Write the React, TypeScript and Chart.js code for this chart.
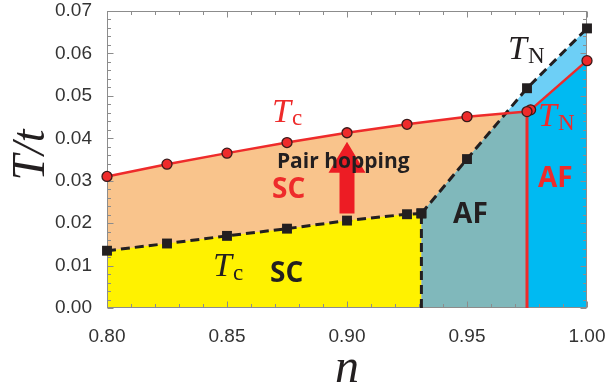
import React, { useEffect, useRef } from 'react';
import { Chart, registerables } from 'chart.js';

Chart.register(...registerables);

// ---- data ----
const tcRedN = [0.80, 0.825, 0.85, 0.875, 0.90, 0.925, 0.95, 0.975];
const tcRedT = [0.0310, 0.0339, 0.0365, 0.0390, 0.0413, 0.0433, 0.0451, 0.0463];

const tnRedN = [0.9765, 1.00];
const tnRedT = [0.0467, 0.0583];

const afRedBoundaryN = [0.975, 0.975];
const afRedBoundaryT = [0.0, 0.0463];

const tcBlackN = [0.80, 0.825, 0.85, 0.875, 0.90, 0.925, 0.931];
const tcBlackT = [0.0135, 0.0152, 0.0170, 0.0187, 0.0206, 0.0221, 0.0223];

const afBlackBoundaryN = [0.931, 0.931];
const afBlackBoundaryT = [0.0, 0.0223];

const tnBlackN = [0.931, 0.95, 0.975, 1.00];
const tnBlackT = [0.0223, 0.0351, 0.0518, 0.0659];

const arrowN = 0.90;
const arrowFromT = 0.0223;
const arrowToT = 0.0392;

const xTickValues = [0.80, 0.85, 0.90, 0.95, 1.00];
const yTickValues = [0.00, 0.01, 0.02, 0.03, 0.04, 0.05, 0.06, 0.07];

// ---- colours ----
const RED = '#EE2B2B';
const BLACK = '#231F20';
const ORANGE = '#F9C48C';
const YELLOW = '#FFF200';
const TEAL = '#80B8BB';
const LIGHTBLUE = '#6DCFF6';
const BLUE = '#00BAF2';

type P = { x: number; y: number };
const pts = (xs: number[], ys: number[]): P[] => xs.map((x, i) => ({ x, y: ys[i] }));

function intersect(a: P[], b: P[]): P | null {
  for (let i = 0; i < a.length - 1; i++) {
    for (let j = 0; j < b.length - 1; j++) {
      const p = a[i], r = { x: a[i + 1].x - p.x, y: a[i + 1].y - p.y };
      const q = b[j], s = { x: b[j + 1].x - q.x, y: b[j + 1].y - q.y };
      const den = r.x * s.y - r.y * s.x;
      if (Math.abs(den) < 1e-15) continue;
      const t = ((q.x - p.x) * s.y - (q.y - p.y) * s.x) / den;
      const u = ((q.x - p.x) * r.y - (q.y - p.y) * r.x) / den;
      if (t >= 0 && t <= 1 && u >= 0 && u <= 1) return { x: p.x + t * r.x, y: p.y + t * r.y };
    }
  }
  return null;
}

const redTc = pts(tcRedN, tcRedT);
const redTn = pts(tnRedN, tnRedT);
const blackTc = pts(tcBlackN, tcBlackT);
const blackTn = pts(tnBlackN, tnBlackT);
const cross = intersect(blackTn, redTc) as P;

const tealPoly: P[] = [
  ...blackTn.filter((p) => p.x < cross.x),
  cross,
  ...redTc.filter((p) => p.x > cross.x),
];
const bluePoly: P[] = [
  { x: afRedBoundaryN[1], y: afRedBoundaryT[1] },
  ...redTn,
];

const decorPlugin = {
  id: 'decor',
  beforeDatasetsDraw(chart: any) {
    const ctx = chart.ctx as CanvasRenderingContext2D;
    const xs = chart.scales.x;
    const ys = chart.scales.y;
    const a = chart.chartArea;

    // arrow
    const cx = xs.getPixelForValue(arrowN);
    const yb = ys.getPixelForValue(arrowFromT);
    const yt = ys.getPixelForValue(arrowToT);
    const headH = 31;
    ctx.save();
    ctx.fillStyle = '#ED1C24';
    ctx.beginPath();
    ctx.moveTo(cx - 7.5, yb);
    ctx.lineTo(cx - 7.5, yt + headH);
    ctx.lineTo(cx - 18.5, yt + headH);
    ctx.lineTo(cx, yt);
    ctx.lineTo(cx + 18.5, yt + headH);
    ctx.lineTo(cx + 7.5, yt + headH);
    ctx.lineTo(cx + 7.5, yb);
    ctx.closePath();
    ctx.fill();
    ctx.restore();

    // frame and inner ticks
    ctx.save();
    ctx.strokeStyle = '#8c8c8c';
    ctx.lineWidth = 1;
    const L = Math.round(a.left) + 0.5, R = Math.round(a.right) - 0.5;
    const T = Math.round(a.top) + 0.5, B = Math.round(a.bottom) - 0.5;
    ctx.strokeRect(L, T, R - L, B - T);
    ctx.beginPath();
    for (let i = 0; i <= 20; i++) {
      const v = 0.80 + i * 0.01;
      const len = i % 5 === 0 ? 6 : 3.5;
      const px = Math.round(xs.getPixelForValue(v)) + 0.5;
      ctx.moveTo(px, B); ctx.lineTo(px, B - len);
      ctx.moveTo(px, T); ctx.lineTo(px, T + len);
    }
    for (let i = 0; i <= 35; i++) {
      const v = i * 0.002;
      const len = i % 5 === 0 ? 6 : 3.5;
      const py = Math.round(ys.getPixelForValue(v)) + 0.5;
      ctx.moveTo(L, py); ctx.lineTo(L + len, py);
      ctx.moveTo(R, py); ctx.lineTo(R - len, py);
    }
    ctx.stroke();
    ctx.restore();
  },
  afterDraw(chart: any) {
    const ctx = chart.ctx as CanvasRenderingContext2D;
    const xs = chart.scales.x;
    const ys = chart.scales.y;
    const X = (v: number) => xs.getPixelForValue(v);
    const Y = (v: number) => ys.getPixelForValue(v);

    const drawT = (x: number, y: number, color: string, sub: string, dy: number) => {
      ctx.fillStyle = color;
      ctx.font = 'italic 34px "Liberation Serif"';
      ctx.textAlign = 'left';
      ctx.textBaseline = 'alphabetic';
      ctx.fillText('T', x, y);
      const w = ctx.measureText('T').width;
      ctx.font = '23px "Liberation Serif"';
      ctx.fillText(sub, x + w + 1, y + dy);
    };
    const label = (text: string, x: number, y: number, color: string, size: number) => {
      ctx.fillStyle = color;
      ctx.font = `bold ${size}px "Open Sans"`;
      ctx.textAlign = 'left';
      ctx.textBaseline = 'alphabetic';
      ctx.fillText(text, x, y);
    };

    ctx.save();
    drawT(X(0.8688), Y(0.0438), RED, 'c', 3);
    drawT(X(0.8442), Y(0.00754), BLACK, 'c', 4);
    drawT(X(0.9796), Y(0.0429), RED, 'N', 4);
    drawT(X(0.9671), Y(0.0587), BLACK, 'N', 4);

    label('Pair hopping', X(0.8708), Y(0.0330), BLACK, 21);
    label('SC', X(0.8688), Y(0.0259), RED, 28);
    label('SC', X(0.8679), Y(0.00613), BLACK, 28);
    label('AF', X(0.9442), Y(0.0200), BLACK, 28);
    label('AF', X(0.9796), Y(0.0285), RED, 28);

    // axis titles
    ctx.fillStyle = BLACK;
    ctx.font = 'italic 48px "Liberation Serif"';
    ctx.textAlign = 'center';
    ctx.textBaseline = 'alphabetic';
    ctx.fillText('n', (chart.chartArea.left + chart.chartArea.right) / 2, 382);

    ctx.translate(44, 155);
    ctx.rotate(-Math.PI / 2);
    ctx.font = 'italic 46px "Liberation Serif"';
    ctx.fillText('T/t', 0, 0);
    ctx.restore();
  },
};

export default function App() {
  const ref = useRef<HTMLCanvasElement | null>(null);

  useEffect(() => {
    if (!ref.current) return;
    const lineBase = { fill: false, tension: 0, clip: false as any };
    const fillBase = {
      borderWidth: 0,
      borderColor: 'rgba(0,0,0,0)',
      pointRadius: 0,
      fill: 'origin',
      tension: 0,
    };
    const chart = new Chart(ref.current, {
      type: 'line',
      data: {
        datasets: [
          // lines & markers (top)
          { ...lineBase, data: redTc, borderColor: RED, borderWidth: 2.5, pointRadius: 5, pointBackgroundColor: RED, pointBorderColor: '#3a1a1a', pointBorderWidth: 1.3 },
          { ...lineBase, data: redTn, borderColor: RED, borderWidth: 2.5, pointRadius: 5, pointBackgroundColor: RED, pointBorderColor: '#3a1a1a', pointBorderWidth: 1.3 },
          { ...lineBase, data: pts(afRedBoundaryN, afRedBoundaryT), borderColor: RED, borderWidth: 3, pointRadius: 0 },
          { ...lineBase, data: blackTn, borderColor: BLACK, borderWidth: 3, borderDash: [9, 5], pointStyle: 'rect', pointRadius: 7, pointBackgroundColor: BLACK, pointBorderWidth: 0 },
          { ...lineBase, data: blackTc, borderColor: BLACK, borderWidth: 3, borderDash: [9, 5], pointStyle: 'rect', pointRadius: 7, pointBackgroundColor: BLACK, pointBorderWidth: 0 },
          { ...lineBase, data: pts(afBlackBoundaryN, afBlackBoundaryT), borderColor: BLACK, borderWidth: 3, borderDash: [9, 5], pointRadius: 0 },
          // fills (top to bottom)
          { ...fillBase, data: blackTc, backgroundColor: YELLOW },
          { ...fillBase, data: bluePoly, backgroundColor: BLUE },
          { ...fillBase, data: tealPoly, backgroundColor: TEAL },
          { ...fillBase, data: blackTn, backgroundColor: LIGHTBLUE },
          { ...fillBase, data: redTc, backgroundColor: ORANGE },
        ] as any,
      },
      options: {
        animation: false,
        responsive: false,
        events: [],
        layout: { padding: { top: 11, right: 20, left: 0, bottom: 0 } },
        plugins: {
          legend: { display: false },
          tooltip: { enabled: false },
          filler: { drawTime: 'beforeDatasetsDraw' },
        },
        scales: {
          x: {
            type: 'linear',
            min: 0.80,
            max: 1.00,
            grid: { display: false },
            border: { display: false },
            afterBuildTicks: (s: any) => { s.ticks = xTickValues.map((v) => ({ value: v })); },
            afterFit: (s: any) => { s.height = 79; s.paddingLeft = 0; s.paddingRight = 0; },
            ticks: {
              color: '#333',
              font: { family: '"Liberation Sans"', size: 19 },
              padding: 9,
              maxRotation: 0,
              autoSkip: false,
              callback: (v: any) => Number(v).toFixed(2),
            },
          },
          y: {
            type: 'linear',
            min: 0,
            max: 0.07,
            grid: { display: false },
            border: { display: false },
            afterBuildTicks: (s: any) => { s.ticks = yTickValues.map((v) => ({ value: v })); },
            afterFit: (s: any) => { s.width = 107; s.paddingTop = 0; s.paddingBottom = 0; },
            ticks: {
              color: '#333',
              font: { family: '"Liberation Sans"', size: 19 },
              padding: 7,
              autoSkip: false,
              callback: (v: any) => Number(v).toFixed(2),
            },
          },
        },
      } as any,
      plugins: [decorPlugin],
    });
    return () => chart.destroy();
  }, []);

  return (
    <div style={{ position: 'absolute', left: 0, top: 0, width: 607, height: 387, background: '#fff' }}>
      <canvas ref={ref} width={607} height={387} />
    </div>
  );
}
